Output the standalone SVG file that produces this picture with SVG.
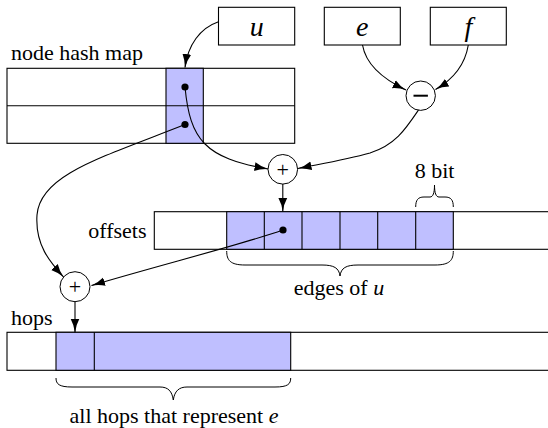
<svg xmlns="http://www.w3.org/2000/svg" width="548" height="428" viewBox="0 0 548 428" font-family="Liberation Serif, Times New Roman, serif">
<style>
.lbl{font-family:"Liberation Serif","Times New Roman",serif;font-size:22px;fill:#000}
.var{font-family:"Liberation Serif","Times New Roman",serif;font-size:28px;font-style:italic;fill:#000}
.box{fill:#fff;stroke:#000;stroke-width:1.1}
.blue{fill:#bfbfff;stroke:#000;stroke-width:1.1}
.ln{fill:none;stroke:#000;stroke-width:1.1}
.op{fill:#fff;stroke:#000;stroke-width:1}
.conn{fill:none;stroke:#000;stroke-width:1.1;marker-end:url(#ah)}
.dot{fill:#000}
.brace{fill:none;stroke:#000;stroke-width:1}
</style>
<defs>
<marker id="ah" markerUnits="userSpaceOnUse" markerWidth="14" markerHeight="10" viewBox="0 0 14 10" refX="13.5" refY="5" orient="auto">
<path d="M0,0.6 Q6,4 14,5 Q6,6 0,9.4 Z" fill="#000"/>
</marker>
</defs>

<g id="hashmap">
<text class="lbl" x="11" y="59.5">node hash map</text>
<rect class="box" x="7" y="68.3" width="287.7" height="75"/>
<rect class="blue" x="166" y="68.3" width="37.3" height="75"/>
<line class="ln" x1="7" y1="105.7" x2="294.7" y2="105.7"/>
<circle class="dot" cx="185" cy="87" r="3.6"/>
<circle class="dot" cx="185" cy="124.5" r="3.6"/>
</g>

<g id="node-u">
<rect class="box" x="218.5" y="7.3" width="76.2" height="37.7"/>
<text class="var" x="256.7" y="35.5" text-anchor="middle">u</text>
</g>
<g id="node-e">
<rect class="box" x="324.3" y="7.3" width="76" height="37.7"/>
<text class="var" x="362.3" y="35.5" text-anchor="middle">e</text>
</g>
<g id="node-f">
<rect class="box" x="430.3" y="7.3" width="76" height="37.7"/>
<text class="var" x="468.3" y="35.5" text-anchor="middle">f</text>
</g>

<g id="minus">
<circle class="op" cx="420.7" cy="95.7" r="14.7"/>
<line x1="413.5" y1="95.7" x2="427.9" y2="95.7" stroke="#000" stroke-width="2"/>
</g>
<g id="plus-top">
<circle class="op" cx="282.8" cy="169.3" r="14.8"/>
<text class="lbl" x="282.8" y="176.8" text-anchor="middle">+</text>
</g>
<g id="plus-low">
<circle class="op" cx="75" cy="286.7" r="15"/>
<text class="lbl" x="75" y="294.2" text-anchor="middle">+</text>
</g>

<g id="offsets">
<text class="lbl" x="146.5" y="238" text-anchor="end">offsets</text>
<rect class="box" x="154.3" y="211.7" width="420" height="37.6"/>
<rect class="blue" x="226.7" y="211.7" width="226.6" height="37.6"/>
<line class="ln" x1="264.3" y1="211.7" x2="264.3" y2="249.3"/>
<line class="ln" x1="302" y1="211.7" x2="302" y2="249.3"/>
<line class="ln" x1="340" y1="211.7" x2="340" y2="249.3"/>
<line class="ln" x1="377.7" y1="211.7" x2="377.7" y2="249.3"/>
<line class="ln" x1="415.7" y1="211.7" x2="415.7" y2="249.3"/>
<circle class="dot" cx="283" cy="230" r="3.6"/>
<path class="brace" d="M415.7,207 C415.7,200 418,197 424,197 L430,197 C433,197 434.5,193 434.5,185 C434.5,193 436,197 439,197 L445,197 C451,197 453.3,200 453.3,207"/>
<text class="lbl" x="434.5" y="178" text-anchor="middle">8 bit</text>
<path class="brace" d="M226.7,251 C226.7,260 230,265 245,265 L322,265 C334,265 339,268 340,276 C341,268 346,265 358,265 L435,265 C450,265 453.3,260 453.3,251"/>
<text class="lbl" x="339" y="294.5" text-anchor="middle">edges of <tspan font-style="italic">u</tspan></text>
</g>

<g id="hops">
<text class="lbl" x="11" y="324.5">hops</text>
<rect class="box" x="7" y="332.3" width="560" height="38"/>
<rect class="blue" x="56" y="332.3" width="234.7" height="38"/>
<line class="ln" x1="94.3" y1="332.3" x2="94.3" y2="370.3"/>
<path class="brace" d="M56,378 C56,384 59,387 72,387 L160,387 C168,387 172,391 173.3,400 C174.6,391 179,387 187,387 L275,387 C288,387 290.7,384 290.7,378"/>
<text class="lbl" x="174" y="423" text-anchor="middle">all hops that represent <tspan font-style="italic">e</tspan></text>
</g>

<g id="connectors">
<path class="conn" d="M218.5,21.7 C200,28 188,45 185,67.5"/>
<path class="conn" d="M185,87 C190,140 205,158 268,169"/>
<path class="conn" d="M362.5,45 C366,65 385,80 406,90"/>
<path class="conn" d="M468.3,45 C465,65 452,80 435.5,89.5"/>
<path class="conn" d="M418.5,110 C405,130 395,145 370,153 C345,160 320,164 298,168.5"/>
<path class="conn" d="M282.8,184.1 L282.8,211.5"/>
<path class="conn" d="M185,124.5 C100,158 40,175 37,215 C35,245 50,262 63.5,277"/>
<path class="conn" d="M283,230 C240,245 160,265 91.5,285.5"/>
<path class="conn" d="M75,301.7 L75,332.3"/>
</g>
</svg>
